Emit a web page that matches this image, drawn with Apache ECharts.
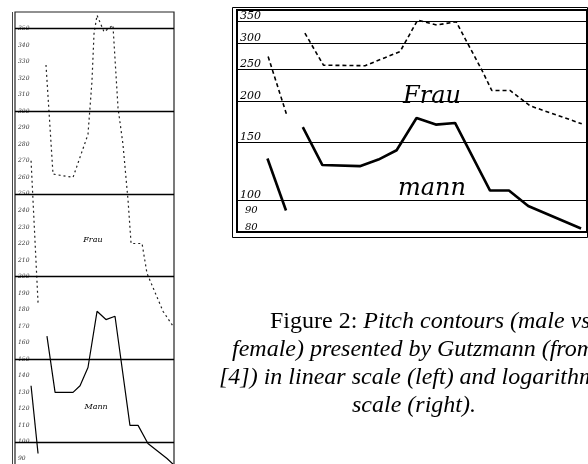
<!DOCTYPE html>
<html><head><meta charset="utf-8">
<script src="https://cdn.jsdelivr.net/npm/echarts@6/dist/echarts.min.js"></script>
<style>html,body{margin:0;padding:0;background:#fff}#c{width:588px;height:464px}</style>
</head><body><div id="c"></div>
<script>
// time is in % of each panel's width; values are in Hz
const leftFrauA = [[10.1,270],[14.5,184]];
const leftFrauB = [[19.5,328],[23.9,262],[36.5,260],[45.9,286],[48.4,318],[49.7,347],[51.6,358],[56.0,348],[61.6,352],[64.8,302],[67.9,280],[71.1,246],[73.0,220],[79.9,220],[83.0,202],[93.1,179],[99.4,170]];
const leftMannA = [[10.1,134],[14.5,93]];
const leftMannB = [[20.1,164],[25.2,130],[36.5,130],[40.9,134],[45.9,145],[51.6,179],[57.2,174],[62.9,176],[72.3,110],[77.4,110],[83.6,99],[95.6,90],[100,86]];
const rightFrauA = [[8.9,274],[14.2,182]];
const rightFrauB = [[19.4,323],[24.7,258],[36.6,257],[46.6,284],[51.6,354],[57.1,342],[62.6,350],[69.9,250],[72.8,216],[78.0,216],[83.7,194],[98.5,171]];
const rightMannA = [[8.7,134],[14.0,93]];
const rightMannB = [[18.8,167],[24.4,128],[35.1,127],[40.4,133],[45.6,142],[51.3,178],[56.8,170],[62.3,172],[72.3,107],[77.7,107],[83.2,96],[98.3,82]];
const leftMajorTicks = [100,150,200,250,300,350];
const rightMajorTicks = [350,300,250,200,150,100];
const rightMinorTicks = [90,80];
const captionLines = [
  ['Figure 2: ', 'Pitch contours (male vs.'],
  ['', 'female) presented by Gutzmann (from'],
  ['', '[4]) in linear scale (left) and logarithmic'],
  ['', 'scale (right).']
];

const chart = echarts.init(document.getElementById('c'), null, {renderer:'canvas'});
const hand = {fontFamily:'DejaVu Serif', fontStyle:'italic', color:'#000'};

function line(data, gi, style, extra) {
  return Object.assign({type:'line', xAxisIndex:gi, yAxisIndex:gi, data:data, symbol:'none',
    silent:true, lineStyle:Object.assign({color:'#000'}, style)}, extra || {});
}
function labelPoint(name, coord, size) {
  return {symbol:'circle', symbolSize:1, silent:true, itemStyle:{color:'rgba(0,0,0,0)'},
    label:Object.assign({show:true, position:'inside', formatter:'{b}', fontSize:size}, hand),
    data:[{name:name, coord:coord}]};
}

const leftFrauStyle = {width:1.2, type:[2,3], color:'#222'};
const leftMannStyle = {width:1.2};
const rightFrauStyle = {width:1.6, type:[4,3]};
const rightMannStyle = {width:2.6};

const linePos = [270, 232, 219, 352];
const lineY = [322, 350, 378, 406];

const option = {
  animation:false,
  backgroundColor:'#fff',
  grid:[
    {left:15, top:12, width:159, height:463, show:true, borderColor:'#222', borderWidth:1.2, outerBoundsMode:'none', containLabel:false},
    {left:237, top:10, width:350, height:222, show:true, borderColor:'#000', borderWidth:2, outerBoundsMode:'none', containLabel:false}
  ],
  xAxis:[
    {gridIndex:0, type:'value', min:0, max:100, show:false},
    {gridIndex:1, type:'value', min:0, max:100, show:false}
  ],
  yAxis:[
    {gridIndex:0, type:'value', min:80, max:360, interval:10,
     axisLine:{show:false}, axisTick:{show:false}, splitLine:{show:false},
     axisLabel:{inside:true, margin:3, fontSize:6, fontFamily:'DejaVu Serif', fontStyle:'italic', color:'#333',
       formatter:function(v){ return (v>=90 && v<=350) ? String(v) : ''; }}},
    {gridIndex:1, type:'log', logBase:10, min:80, max:380,
     axisLine:{show:false}, axisTick:{show:false}, splitLine:{show:false}, axisLabel:{show:false}}
  ],
  series:[
    line(leftFrauA, 0, leftFrauStyle, {markLine:{symbol:'none', silent:true, label:{show:false},
      lineStyle:{color:'#000', width:1.3, type:'solid'},
      data:leftMajorTicks.map(function(v){return {yAxis:v};})}}),
    line(leftFrauB, 0, leftFrauStyle, {markPoint:labelPoint('Frau', [49, 222], 8)}),
    line(leftMannA, 0, leftMannStyle),
    line(leftMannB, 0, leftMannStyle, {markPoint:labelPoint('Mann', [51, 121], 8)}),
    line(rightFrauA, 1, rightFrauStyle, {markLine:{symbol:'none', silent:true,
      lineStyle:{color:'#000', width:1.2, type:'solid'},
      label:Object.assign({show:true, position:'insideStartTop', distance:[3,0], fontSize:11,
        formatter:function(p){return String(p.value);}}, hand),
      data:rightMajorTicks.map(function(v){return {yAxis:v};})}}),
    line(rightFrauB, 1, rightFrauStyle, {markPoint:labelPoint('Frau', [55.7, 206], 24)}),
    line(rightMannA, 1, rightMannStyle, {markLine:{symbol:'none', silent:true,
      lineStyle:{color:'rgba(0,0,0,0)', width:0},
      label:Object.assign({show:true, position:'insideStartTop', distance:[8,0], fontSize:10,
        formatter:function(p){return String(p.value);}}, hand),
      data:rightMinorTicks.map(function(v){return {yAxis:v};})}}),
    line(rightMannB, 1, rightMannStyle, {markPoint:labelPoint('mann', [55.7, 108], 24)})
  ],
  graphic:[
    {type:'rect', silent:true, shape:{x:232.5, y:7.5, width:355, height:230}, style:{fill:'none', stroke:'#000', lineWidth:1}},
    {type:'line', silent:true, shape:{x1:12.5, y1:12, x2:12.5, y2:464}, style:{stroke:'#444', lineWidth:1}}
  ].concat(captionLines.map(function(l, i){
    return {type:'text', silent:true, x:linePos[i], y:lineY[i],
      style:{text:(l[0] ? '{r|' + l[0] + '}' : '') + '{i|' + l[1] + '}', verticalAlign:'middle',
        fontSize:24, fontFamily:'Liberation Serif', fill:'#000',
        rich:{r:{fontSize:24, fontFamily:'Liberation Serif', fontStyle:'normal'},
              i:{fontSize:24, fontFamily:'Liberation Serif', fontStyle:'italic'}}}};
  }))
};
chart.setOption(option);
</script></body></html>
